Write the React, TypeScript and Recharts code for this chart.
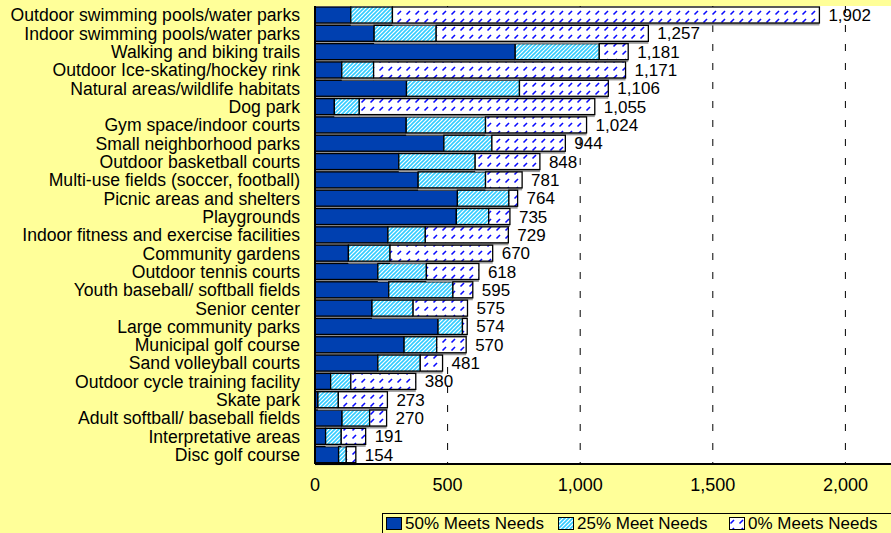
import React from "react";
import { BarChart, Bar, XAxis, YAxis, CartesianGrid, LabelList } from "recharts";

const categories = [
  "Outdoor swimming pools/water parks",
  "Indoor swimming pools/water parks",
  "Walking and biking trails",
  "Outdoor Ice-skating/hockey rink",
  "Natural areas/wildlife habitats",
  "Dog park",
  "Gym space/indoor courts",
  "Small neighborhood parks",
  "Outdoor basketball courts",
  "Multi-use fields (soccer, football)",
  "Picnic areas and shelters",
  "Playgrounds",
  "Indoor fitness and exercise facilities",
  "Community gardens",
  "Outdoor tennis courts",
  "Youth baseball/ softball fields",
  "Senior center",
  "Large community parks",
  "Municipal golf course",
  "Sand volleyball courts",
  "Outdoor cycle training facility",
  "Skate park",
  "Adult softball/ baseball fields",
  "Interpretative areas",
  "Disc golf course",
];

const meets50 = [135, 223, 755, 101, 345, 73, 344, 486, 316, 389, 537, 533, 275, 126, 237, 278, 215, 464, 336, 237, 59, 11, 102, 40, 89];
const meets25 = [157, 234, 317, 120, 426, 94, 299, 181, 288, 254, 194, 122, 141, 157, 183, 242, 155, 92, 123, 160, 76, 77, 104, 59, 29];
const totals = [1902, 1257, 1181, 1171, 1106, 1055, 1024, 944, 848, 781, 764, 735, 729, 670, 618, 595, 575, 574, 570, 481, 380, 273, 270, 191, 154];
const meets0 = totals.map((t, i) => t - meets50[i] - meets25[i]);

const xTicks = [0, 500, 1000, 1500, 2000];

const seriesNames = ["50% Meets Needs", "25% Meet Needs", "0% Meets Needs"];
const seriesFills = ["#0040B0", "url(#hatch25)", "url(#dash0)"];

const data = categories.map((name, i) => ({
  name,
  m50: meets50[i],
  m25: meets25[i],
  m0: meets0[i],
  total: totals[i],
}));

const FONT = "Arial, 'Liberation Sans', sans-serif";
const fmt = (v: any) => Number(v).toLocaleString("en-US");

const shadowShape = (fill: string) => (props: any) => {
  const { x, y, width, height } = props;
  if (!width || width <= 0) return <g />;
  return (
    <g>
      <rect x={x} y={y + 2.5} width={width} height={height} fill="#9c9c9c" />
      <rect x={x} y={y} width={width} height={height} fill={fill} stroke="#000" strokeWidth={1.3} />
    </g>
  );
};

const legendLefts = [3, 175, 346];

export default function App() {
  return (
    <div
      style={{
        position: "fixed",
        left: 0,
        top: 0,
        width: 891,
        height: 533,
        overflow: "hidden",
        background: "#FFFF99",
        fontFamily: FONT,
      }}
    >
      <svg width={0} height={0} style={{ position: "absolute" }}>
        <defs>
          <pattern id="hatch25" width={4} height={4} patternUnits="userSpaceOnUse">
            <rect width={4} height={4} fill="#fff" />
            <path d="M-1,1 l2,-2 M0,4 l4,-4 M3,5 l2,-2" stroke="#33CCFF" strokeWidth={1.6} />
          </pattern>
          <pattern id="dash0" width={9} height={8} patternUnits="userSpaceOnUse">
            <rect width={9} height={8} fill="#fff" />
            <path d="M1.5,6.5 L5,3" stroke="#0a0aff" strokeWidth={1.6} />
          </pattern>
        </defs>
      </svg>
      <BarChart
        width={990}
        height={533}
        data={data}
        layout="vertical"
        margin={{ top: 6, right: 12, bottom: 39, left: 0 }}
        style={{ fontFamily: FONT }}
      >
        <CartesianGrid horizontal={false} vertical stroke="#000" strokeDasharray="7 12" fill="#fff" />
        <XAxis
          type="number"
          domain={[0, 2500]}
          ticks={xTicks}
          tickFormatter={fmt}
          axisLine={{ stroke: "#000", strokeWidth: 2 }}
          tickLine={false}
          tickSize={6}
          tickMargin={8}
          height={30}
          tick={{ fontSize: 18, fill: "#000" }}
        />
        <XAxis
          xAxisId="top"
          orientation="top"
          type="number"
          domain={[0, 2500]}
          height={0}
          tick={false}
          tickLine={false}
          axisLine={{ stroke: "#000", strokeWidth: 2 }}
        />
        <YAxis
          type="category"
          dataKey="name"
          width={315}
          interval={0}
          axisLine={{ stroke: "#000", strokeWidth: 2 }}
          tickLine={false}
          tickSize={6}
          tickMargin={9}
          tick={{ fontSize: 17.6, fill: "#000" }}
        />
        <Bar dataKey="m50" stackId="a" barSize={16} fill={seriesFills[0]} shape={shadowShape(seriesFills[0])} isAnimationActive={false} />
        <Bar dataKey="m25" stackId="a" barSize={16} fill={seriesFills[1]} shape={shadowShape(seriesFills[1])} isAnimationActive={false} />
        <Bar dataKey="m0" stackId="a" barSize={16} fill={seriesFills[2]} shape={shadowShape(seriesFills[2])} isAnimationActive={false}>
          <LabelList dataKey="total" position="right" offset={9} formatter={fmt} fill="#000" style={{ fontSize: 17 }} />
        </Bar>
      </BarChart>
      <div
        style={{
          position: "absolute",
          left: 382,
          top: 513,
          width: 600,
          height: 30,
          border: "1px solid #000",
          boxSizing: "border-box",
        }}
      >
        {seriesNames.map((n, i) => (
          <div
            key={n}
            style={{
              position: "absolute",
              left: legendLefts[i],
              top: 1,
              height: 17,
              display: "flex",
              alignItems: "center",
              fontSize: 17,
              whiteSpace: "nowrap",
              color: "#000",
            }}
          >
            <svg width={16} height={13} style={{ marginRight: 3 }}>
              <rect x={0.5} y={0.5} width={15} height={12} fill={seriesFills[i]} stroke="#000" strokeWidth={1} />
            </svg>
            {n}
          </div>
        ))}
      </div>
    </div>
  );
}
